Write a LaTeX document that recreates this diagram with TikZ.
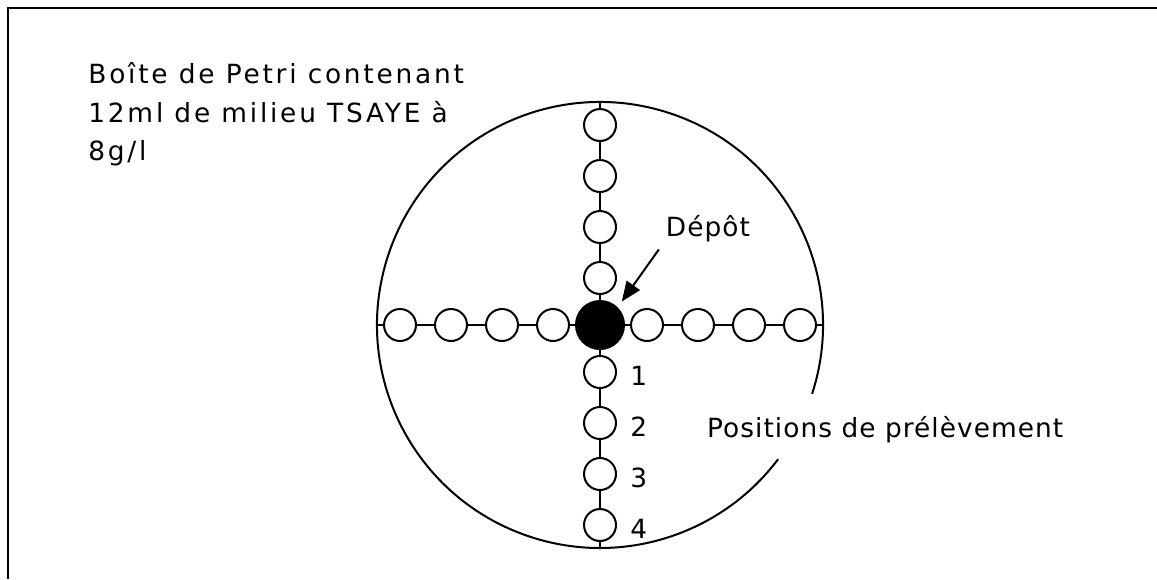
\documentclass[tikz,border=0pt]{standalone}
\usepackage{fontspec}
\setmainfont{DejaVu Sans}[LetterSpace=4]
\newfontfamily\titrefont{DejaVu Sans}[LetterSpace=10.5]
\usetikzlibrary{arrows.meta,positioning}

\begin{document}
\begin{tikzpicture}[
  x=0.5pt, y=-0.5pt,
  font=\fontsize{13.2}{19.25}\selectfont,
  trait/.style={line width=1pt},
  puits/.style={draw, circle, fill=white, line width=1pt, minimum size=16pt, inner sep=0pt},
  depot/.style={draw, circle, fill=black, line width=1pt, minimum size=24pt, inner sep=0pt},
  num/.style={right=6.5pt of #1, yshift=-2pt, inner sep=0pt},
  fleche/.style={-{Triangle[length=10pt,width=8pt]}, line width=1pt}
]
  \useasboundingbox (0,0) rectangle (1157,579);
  % cadre
  \coordinate (cb) at (8,579);
  \coordinate (ch) at (1157,8);
  \draw[trait] (cb) |- (ch);

  % boite de Petri
  \node[circle, minimum size=223pt, inner sep=0pt, outer sep=0pt] (boite) at (600,325) {};
  \draw[trait] (boite.-18) arc[start angle=-18, end angle=323, radius=111.5pt];
  \draw[trait] (boite.west) -- (boite.east);
  \draw[trait] (boite.north) -- (boite.south);

  % depot et positions
  \node[depot] (dep) at (boite.center) {};
  \foreach \i/\d in {1/47,2/98,3/149,4/200} {
    \node[puits] (e\i) at (600+\d,325) {};
    \node[puits] (w\i) at (600-\d,325) {};
    \node[puits] (n\i) at (600,325-\d) {};
    \node[puits] (s\i) at (600,325+\d) {};
    \node[num=s\i] (l\i) {\i};
  }

  % textes
  \node[anchor=north west, align=left, inner sep=0pt, font=\titrefont\fontsize{13.2}{19.25}\selectfont] (titre) at (88,62)
    {Boîte de Petri contenant\\12ml de milieu TSAYE à\\8g/l};
  \node (lbl) at (708,229) {Dépôt};
  \draw[fleche, shorten >=3.5pt] (lbl.south west) -- (dep.north east);
  \node[anchor=west] (pos) at (700,430) {Positions de prélèvement};
\end{tikzpicture}
\end{document}
